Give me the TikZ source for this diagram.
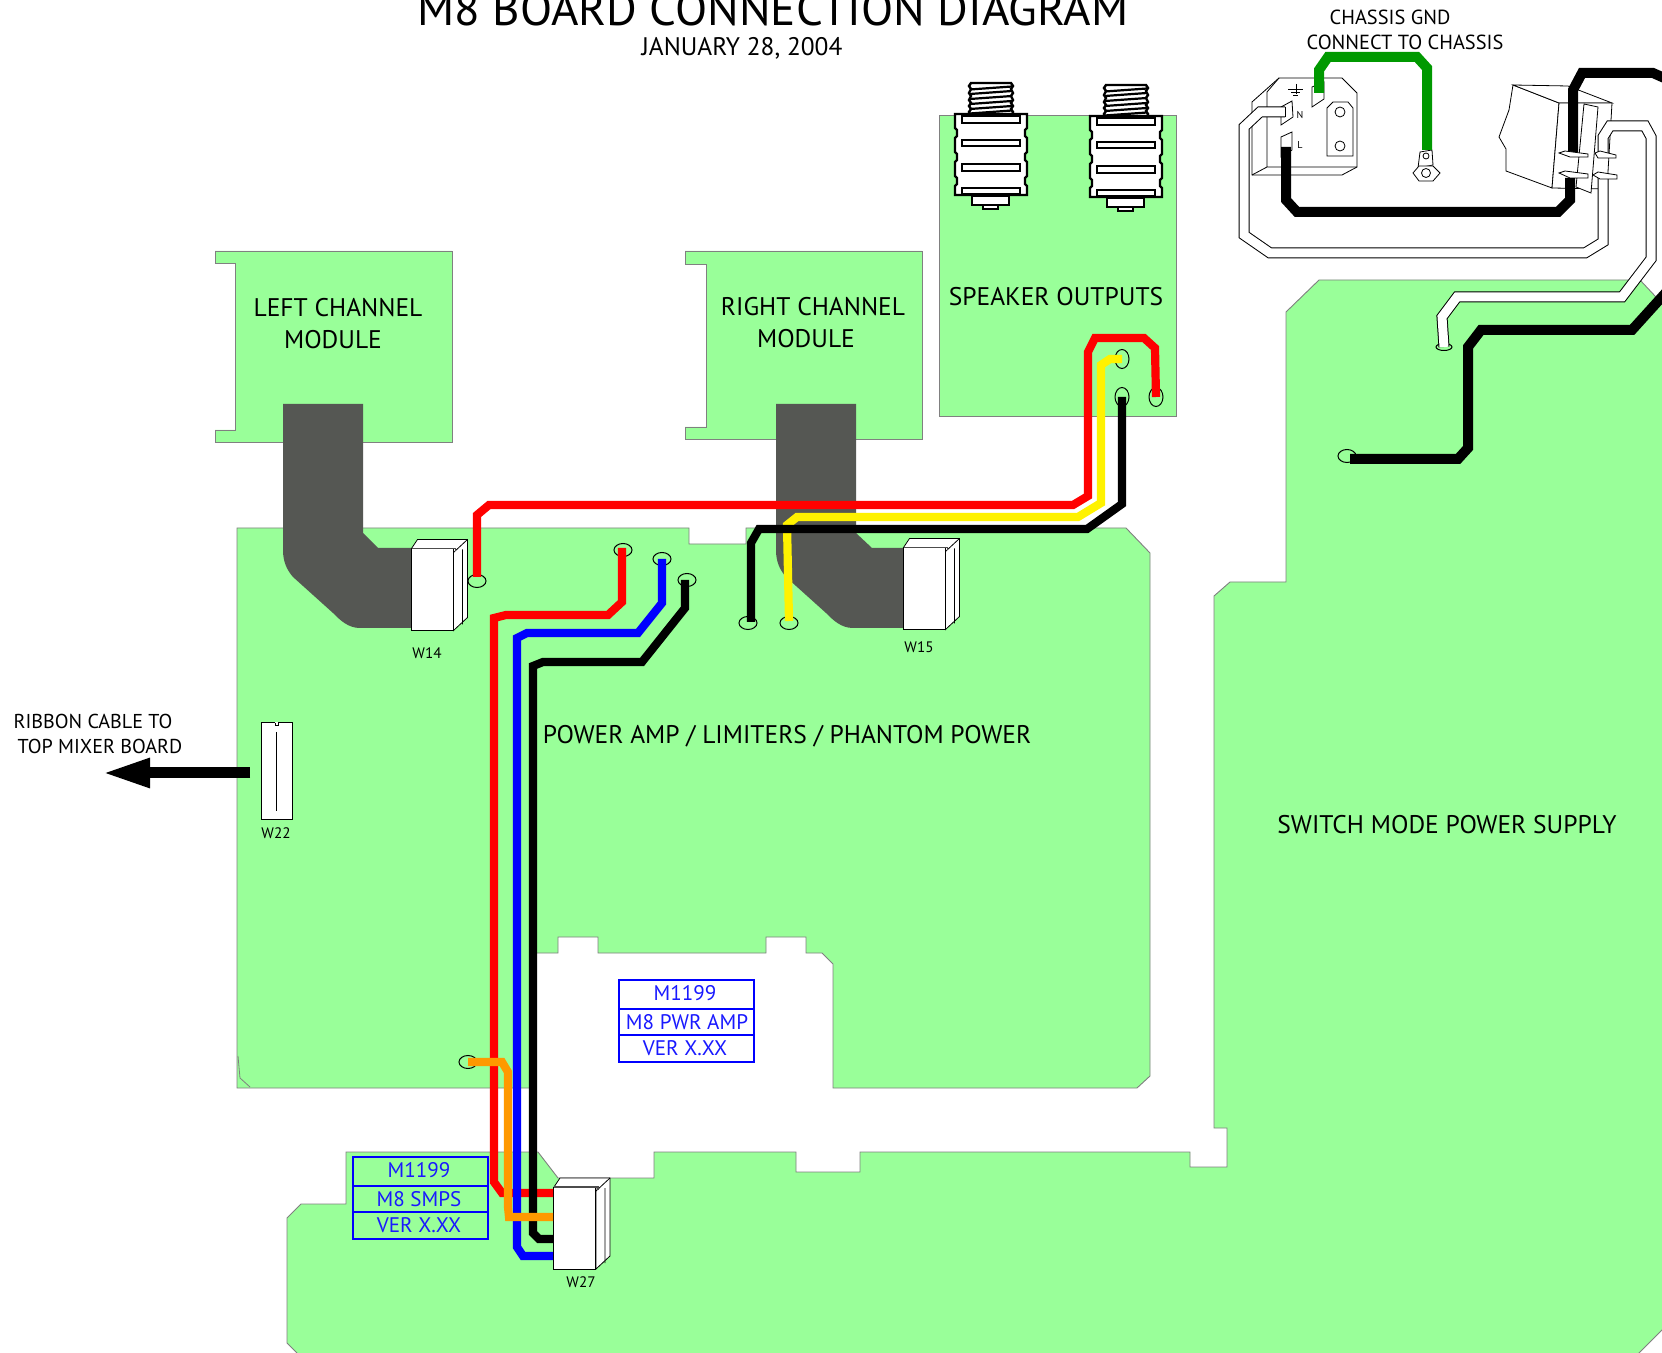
\documentclass[tikz,border=0pt]{standalone}
\usepackage{fontspec}
\setmainfont{PT Sans}
\usetikzlibrary{arrows.meta,shapes.geometric}
\newcommand{\fsz}[1]{\fontsize{#1}{#1}\selectfont}
\definecolor{board}{HTML}{99FF99}
\definecolor{boardline}{HTML}{808080}
\definecolor{ribbon}{HTML}{555753}
\definecolor{wgreen}{HTML}{009900}
\definecolor{worange}{HTML}{FF9900}
\tikzset{
  panel/.style={fill=board,draw=boardline,line width=.45pt},
  ribbonshape/.style={fill=ribbon,draw=none},
  wire/.style={line width=4.1pt,line join=miter,miter limit=4},
  fatwire/.style={line width=5pt,line join=miter,miter limit=4},
  whitewire/.style={line width=.5pt,double=white,double distance=4.5pt,line join=miter},
  pad/.style={ellipse,draw=black,line width=.5pt,inner sep=0pt,minimum width=9pt,minimum height=6.5pt},
  padv/.style={ellipse,draw=black,line width=.5pt,inner sep=0pt,minimum width=7pt,minimum height=9.5pt},
  conn/.style={rectangle,draw=black,fill=white,line width=.5pt,inner sep=0pt,minimum width=21pt,minimum height=41pt},
  thin/.style={draw=black,line width=.4pt,fill=white},
  txt/.style={inner sep=0pt,text=black},
  big/.style={txt,font=\fsz{12.75}},
  lab/.style={txt,font=\fsz{10.2}},
  small/.style={txt,font=\fsz{7.6}},
  bluebox/.style={draw=blue,line width=.8pt},
  bluetxt/.style={inner sep=0pt,text=blue!90!white,font=\fsz{10.55}},
  jackline/.style={draw=black,line width=1.2pt,fill=white},
  connside/.pic={
    \path[thin] (-42,0)--(-36,-9)--(14,-9)--(14,69)--(0,82)--(0,0)--cycle;
    \draw[line width=.4pt] (0,4)--(14,-9) (9,1)--(9,76);
    \draw[line width=.7pt,black!70] (-42,0)--(2,0)--(2,3);
  },
  jackpic/.pic={
    \path[jackline] (16,-31)--(56,-31)--(58,-28)--(56,-25)--(58,-21)--(56,-18)--(58,-14)--(56,-11)--(58,-8)--(56,-5)--(58,-2)--(57,1)--(15,1)--(14,-2)--(16,-5)--(14,-8)--(16,-11)--(14,-14)--(16,-18)--(14,-21)--(16,-25)--(14,-28)--cycle;
    \foreach \yy in {-26,-21.500,-16.500,-11.500,-6.500,-2}{
      \draw[line width=1.1pt] (15,\yy+1.5)--(57,\yy-1.5);
    }
    \path[jackline] (0,0)--(72,0)--(72,14)--(70,16)--(70,22)--(72,24)--(72,38)--(70,40)--(70,46)--(72,48)--(72,62)--(70,64)--(70,70)--(72,72)--(72,81)
      --(0,81)--(0,72)--(2,70)--(2,64)--(0,62)--(0,48)--(2,46)--(2,40)--(0,38)--(0,24)--(2,22)--(2,16)--(0,14)--cycle;
    \path[jackline] (7,2) rectangle (65,9);
    \path[jackline] (7,26) rectangle (65,32);
    \path[jackline] (7,50) rectangle (65,57);
    \path[jackline] (7,74) rectangle (65,80);
    \path[jackline] (17,82) rectangle (54,91);
    \path[jackline] (28,91) rectangle (43,95);
  },
}
\begin{document}
\begin{tikzpicture}[x=0.5pt,y=-0.5pt]
\useasboundingbox (0,0) rectangle (1662,1353);
\begin{scope}
\clip (0,0) rectangle (1662,1353);
\fill[white] (0,0) rectangle (1662,1353);

% boards
\path[panel] (215,251)--(452,251)--(452,442)--(215,442)--(215,430)--(235,430)--(235,263)--(215,263)--cycle;
\path[panel] (685,251)--(922,251)--(922,439)--(685,439)--(685,427)--(706,427)--(706,264)--(685,264)--cycle;
\path[panel] (939,115) rectangle (1176,416);
\path[panel] (237,528)--(689,528)--(689,544)--(746,544)--(746,528)--(1126,528)--(1150,553)--(1150,1076)--(1137,1088)--(833,1088)--(833,964)--(822,953)--(806,953)--(806,937)--(766,937)--(766,953)--(598,953)--(598,937)--(558,937)--(558,953)--(533,953)--(533,1088)--(237,1088)--cycle;
\draw[draw=boardline,line width=.4pt] (238,1056)--(240,1078)--(250,1087);
\path[panel] (297,1360)--(297,1353)--(287,1343)--(287,1218)--(301,1204)--(346,1204)--(346,1152)--(538,1152)--(558,1178)--(654,1178)--(654,1152)--(796,1152)--(796,1172)--(860,1172)--(860,1152)--(1190,1152)--(1190,1167)--(1227,1167)--(1227,1128)--(1214,1128)--(1214,596)--(1230,582)--(1286,582)--(1286,312)--(1319,280)--(1640,280)--(1670,312)--(1670,1322)--(1632,1360)--cycle;

% ribbons
\path[ribbonshape] (283,404)--(363,404)--(363,533)--(378,548)--(412,548)--(412,628)--(360,628) .. controls (348,628) and (340,620) .. (333,613)--(293,577) .. controls (287,570) and (283,562) .. (283,550)--cycle;
\path[ribbonshape] (776,404)--(856,404)--(856,533)--(872,548)--(904,548)--(904,628)--(853,628) .. controls (841,628) and (833,620) .. (826,613)--(786,577) .. controls (780,570) and (776,562) .. (776,550)--cycle;

% connectors
\node[conn] (w14) at (432,590) {};
\pic at (w14.north east) {connside};
\node[conn] (w15) at (924,589) {};
\pic at (w15.north east) {connside};
\node[conn] (w27) at (574.500,1228.500) {};
\pic at (w27.north east) {connside};
\node[rectangle,draw=black,fill=white,line width=.5pt,inner sep=0pt,minimum width=15.500pt,minimum height=48.500pt] (w22) at (276.500,771.500) {};
\draw[line width=.4pt] (276.500,732)--(276.500,811);
\fill[white] (275,722.500) rectangle (278,725);
\draw[line width=.4pt] (275,723)--(275,725)--(278,725)--(278,723);

% jacks
\pic at (955,114) {jackpic};
\pic at (1090,116) {jackpic};

% pads
\node[pad] (p1) at (477,581) {};
\node[pad] (p2) at (623,550) {};
\node[pad] (p3) at (662,559) {};
\node[pad] (p4) at (687,580) {};
\node[pad] (p5) at (748,623) {};
\node[pad] (p6) at (789,623) {};
\node[padv] (p7) at (1122,359) {};
\node[padv] (p8) at (1122,397) {};
\node[padv] (p9) at (1156,397) {};
\node[pad] (p10) at (468,1062) {};
\node[pad] (p11) at (1347,456) {};
\node[ellipse,draw=black,line width=.5pt,inner sep=0pt,minimum width=8pt,minimum height=3.500pt] (p12) at (1444,347) {};

\coordinate (w27r) at (553,1193);
\coordinate (w27o) at (553,1217);
\coordinate (w27k) at (553,1239);
\coordinate (w27b) at (553,1256);

% IEC socket
\path[thin] (1279,78)--(1342,78)--(1357,93)--(1357,167)--(1342,175)--(1252,175)--(1252,102)--cycle;
\draw[line width=.4pt] (1279,78)--(1267,92)--(1267,167)--(1357,167) (1267,167)--(1252,175);
\draw[line width=.4pt] (1296,84)--(1296,94) (1288,89)--(1303,89) (1291,92)--(1300,92) (1293,95)--(1298,95);
\path[thin] (1327,108)--(1333,102)--(1348,102)--(1353,108)--(1353,156)--(1327,156)--cycle;
\draw[line width=.4pt] (1340,112) circle[radius=5] (1340,146) circle[radius=5];
\path[thin] (1312,87)--(1324,82)--(1324,99)--(1312,107)--cycle;
\path[thin] (1281,107)--(1292,101)--(1293,117)--(1281,125)--cycle;
\path[thin] (1281,137)--(1292,132)--(1292,150)--(1281,157)--cycle;
\node[inner sep=0pt,font=\fsz{5}] (lN) at (1300,115) {N};
\node[inner sep=0pt,font=\fsz{5}] (lL) at (1300,145) {L};

% chassis lug
\path[thin] (1420,152)--(1432,150)--(1433,165)--(1418,168)--cycle;
\draw[line width=.4pt] (1426,156) circle[radius=3];
\path[thin] (1419,166)--(1433,166)--(1440,173)--(1433,181)--(1419,181)--(1413,173)--cycle;
\draw[line width=.4pt] (1426,173) circle[radius=4.500];

% switch
\path[thin] (1513,85)--(1559,103)--(1552,188)--(1506,171)--(1506,149)--(1499,137)--(1509,110)--cycle;
\path[thin] (1513,85)--(1568,86)--(1612,103)--(1559,103)--cycle;
\path[thin] (1559,103)--(1612,103)--(1607,189)--(1552,188)--cycle;
\path[thin] (1584,104)--(1598,107)--(1591,193)--(1576,187)--cycle;

% power wires of socket and switch
\draw[whitewire] (1285,112)--(1260,112)--(1244,127)--(1244,235)--(1270,253)--(1585,253)--(1603,242)--(1603,176);
\draw[line width=.5pt] (1285,107)--(1285,117);
\draw[whitewire] (1603,155)--(1603,137)--(1610,126)--(1645,126)--(1651,137)--(1651,259)--(1622,297)--(1457,297)--(1442,317)--(p12.center);
\draw[fatwire,black] (1573,152)--(1573,90)--(1582,73)--(1653,73)--(1680,85);
\draw[fatwire,black] (1286,147)--(1286,200)--(1297,212)--(1558,212)--(1570,200)--(1570,178);
\draw[fatwire,wgreen] (1319,93)--(1319,70)--(1328,57)--(1417,57)--(1427,68)--(1427,150);
\draw[fatwire,black] ([xshift=1.500pt,yshift=-1.500pt]p11.center)--(1458,459)--(1468,448)--(1468,347)--(1481,330)--(1632,330)--(1670,288);

% switch terminals
\path[thin] (1559,153)--(1565,151)--(1588,154)--(1588,157)--(1570,157)--cycle;
\path[thin] (1559,173)--(1565,171)--(1588,174)--(1588,178)--(1570,178)--cycle;
\path[thin] (1595,153)--(1600,151)--(1616,155)--(1616,158)--(1598,158)--cycle;
\path[thin] (1593,175)--(1598,172)--(1617,175)--(1617,179)--(1600,179)--cycle;

% signal wires
\draw[wire,red] ([yshift=2pt]p1.center)--(477,515)--(489,505)--(1073,505)--(1088,496)--(1088,352)--(1095,338)--(1144,338)--(1155,348)--(p9.center);
\draw[wire,yellow] ([yshift=1pt]p6.center)--(787,525)--(797,517)--(1078,517)--(1101,503)--(1101,365)--(1110,359)--(p7.center);
\draw[wire,black] ([xshift=1.500pt,yshift=.500pt]p5.center)--(751,543)--(759,529)--(1087,529)--(1122,504)--(p8.center);
\draw[wire,red] ([xshift=-.500pt,yshift=1pt]p2.center)--(622,602)--(608,615)--(506,615)--(494,618)--(494,1182)--(502,1193)--(w27r);
\draw[wire,blue] (p3.center)--(662,603)--(638,633)--(527,633)--(517,638)--(517,1247)--(523,1256)--(w27b);
\draw[wire,black] ([xshift=-1pt]p4.center)--(685,608)--(642,662)--(543,662)--(533,666)--(533,1233)--(539,1239)--(w27k);
\draw[wire,worange] (p10.center)--(502,1062)--(508,1072)--(508,1207)--(509,1217)--(w27o);

% ribbon arrow
\coordinate (arrowstart) at (250,773);
\coordinate (arrowtip) at (102,773);
\draw[line width=5.500pt,-{Triangle[length=24pt,width=13.500pt]}] (arrowstart)--(arrowtip);

% version boxes
\draw[bluebox] (619,980) rectangle (754,1062) (619,1009)--(754,1009) (619,1035)--(754,1035);
\draw[bluebox] (353,1157) rectangle (488,1239) (353,1186)--(488,1186) (353,1212)--(488,1212);
\node[bluetxt] (a1) at (685,993) {M1199};
\node[bluetxt] (a2) at (687,1022) {M8 PWR AMP};
\node[bluetxt] (a3) at (685,1048) {VER X.XX};
\node[bluetxt] (b1) at (419,1170) {M1199};
\node[bluetxt] (b2) at (419,1199) {M8 SMPS};
\node[bluetxt] (b3) at (419,1225) {VER X.XX};

% text
\node[txt,font=\fsz{23.500},anchor=base] (title) at (773,26) {M8 BOARD CONNECTION DIAGRAM};
\node[lab,font=\fsz{12.700}] (date) at (742,48) {JANUARY 28, 2004};
\node[lab] (t1) at (1390,17) {CHASSIS GND};
\node[lab] (t2) at (1405,42) {CONNECT TO CHASSIS};
\node[big] (t3) at (338,308) {LEFT CHANNEL};
\node[big] (t4) at (333,340) {MODULE};
\node[big] (t5) at (813,307) {RIGHT CHANNEL};
\node[big] (t6) at (806,339) {MODULE};
\node[big] (t7) at (1056,297) {SPEAKER OUTPUTS};
\node[big] (t8) at (787,736) {POWER AMP / LIMITERS / PHANTOM POWER};
\node[big] (t9) at (1447,825) {SWITCH MODE POWER SUPPLY};
\node[lab,font=\fsz{10.050}] (t10) at (93,721) {RIBBON CABLE TO};
\node[lab,font=\fsz{10.050}] (t11) at (100,746) {TOP MIXER BOARD};
\node[small] (c1) at (427,653) {W14};
\node[small] (c2) at (919,647) {W15};
\node[small] (c3) at (276,833) {W22};
\node[small] (c4) at (581,1282) {W27};
\end{scope}
\end{tikzpicture}
\end{document}
